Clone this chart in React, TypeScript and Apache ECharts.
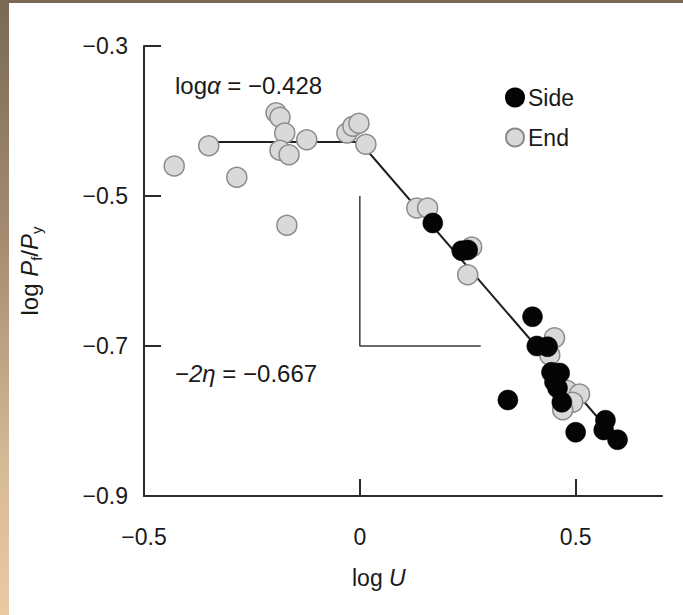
import React, { useEffect, useRef } from "react";
import * as echarts from "echarts";

const sideData: [number, number][] = [
  [0.169, -0.536],
  [0.236, -0.573],
  [0.25, -0.572],
  [0.4, -0.661],
  [0.41, -0.7],
  [0.435, -0.701],
  [0.444, -0.735],
  [0.463, -0.736],
  [0.451, -0.748],
  [0.458, -0.756],
  [0.468, -0.775],
  [0.343, -0.772],
  [0.5, -0.815],
  [0.569, -0.799],
  [0.565, -0.812],
  [0.597, -0.825],
];

const endData: [number, number][] = [
  [-0.43, -0.46],
  [-0.35, -0.433],
  [-0.285, -0.475],
  [-0.194, -0.389],
  [-0.185, -0.395],
  [-0.174, -0.416],
  [-0.185, -0.439],
  [-0.164, -0.445],
  [-0.169, -0.539],
  [-0.123, -0.425],
  [-0.03, -0.416],
  [-0.016, -0.407],
  [-0.002, -0.403],
  [0.014, -0.431],
  [0.132, -0.516],
  [0.157, -0.516],
  [0.259, -0.568],
  [0.25, -0.605],
  [0.451, -0.689],
  [0.44, -0.712],
  [0.479, -0.759],
  [0.509, -0.764],
  [0.493, -0.775],
  [0.47, -0.785],
];

const fitLine: [number, number][] = [
  [-0.35, -0.428],
  [0, -0.428],
  [0.57, -0.808],
];

const slopeGuide: [number, number][] = [
  [0, -0.5],
  [0, -0.7],
  [0.28, -0.7],
];

const xTicks = [-0.5, 0, 0.5];
const yTicks = [-0.9, -0.7, -0.5, -0.3];

const FONT = "'Liberation Sans', Arial, sans-serif";
const fmt = (v: number) => (v < 0 ? "\u2212" + String(Math.abs(v)) : String(v));

export default function App() {
  const ref = useRef<HTMLDivElement>(null);

  useEffect(() => {
    if (!ref.current) return;
    const chart = echarts.init(ref.current, null, { renderer: "svg" });
    const axisLineStyle = { color: "#2b2b2b", width: 2 };
    const TXT = "#1a1a1a";
    chart.setOption({
      animation: false,
      backgroundColor: "transparent",
      textStyle: { fontFamily: FONT },
      grid: { left: 144, top: 46, right: 21, bottom: 119, containLabel: false },
      xAxis: {
        type: "value",
        min: -0.5,
        max: 0.7,
        interval: 0.5,
        axisLine: { show: true, lineStyle: axisLineStyle, onZero: false },
        axisTick: {
          show: true,
          inside: true,
          length: 17,
          lineStyle: axisLineStyle,
          customValues: xTicks,
        },
        axisLabel: {
          customValues: xTicks,
          formatter: (v: number) => fmt(v),
          fontSize: 23,
          color: TXT,
          fontFamily: FONT,
          margin: 29,
        },
        splitLine: { show: false },
      },
      yAxis: {
        type: "value",
        min: -0.9,
        max: -0.3,
        interval: 0.2,
        axisLine: { show: true, lineStyle: axisLineStyle, onZero: false },
        axisTick: {
          show: true,
          inside: true,
          length: 17,
          lineStyle: axisLineStyle,
          customValues: yTicks,
        },
        axisLabel: {
          customValues: yTicks,
          formatter: (v: number) => fmt(Math.round(v * 10) / 10),
          fontSize: 23,
          color: TXT,
          fontFamily: FONT,
          margin: 16,
        },
        splitLine: { show: false },
        name: "{n|log }{i|P}{s|f}{n|/}{i|P}{s|y}",
        nameLocation: "middle",
        nameRotate: 90,
        nameGap: 100,
        nameTextStyle: {
          rich: {
            n: { fontSize: 24, color: TXT, fontFamily: FONT },
            i: { fontSize: 24, color: TXT, fontFamily: FONT, fontStyle: "italic" },
            s: { fontSize: 15, color: TXT, fontFamily: FONT, verticalAlign: "bottom", padding: [14, 0, 0, 0] },
          },
        },
      },
      legend: {
        data: ["Side", "End"],
        orient: "vertical",
        left: 505,
        top: 86,
        padding: 0,
        itemWidth: 18,
        itemHeight: 18,
        itemGap: 17,
        icon: "circle",
        textStyle: { fontSize: 23, color: TXT, fontFamily: FONT, padding: [0, 0, 0, -1] },
      },
      graphic: [
        {
          type: "text",
          left: 175,
          top: 73,
          style: {
            text: "{n|log}{i|\u03b1}{n| = \u22120.428}",
            rich: {
              n: { fontSize: 24, fill: TXT, fontFamily: FONT },
              i: { fontSize: 24, fill: TXT, fontFamily: FONT, fontStyle: "italic" },
            },
          },
        },
        {
          type: "text",
          left: 175,
          top: 361,
          style: {
            text: "{n|\u2212}{i|2\u03b7}{n| = \u22120.667}",
            rich: {
              n: { fontSize: 24, fill: TXT, fontFamily: FONT },
              i: { fontSize: 24, fill: TXT, fontFamily: FONT, fontStyle: "italic" },
            },
          },
        },
        {
          type: "text",
          left: 352,
          top: 566,
          style: {
            text: "{n|log }{i|U}",
            rich: {
              n: { fontSize: 23, fill: TXT, fontFamily: FONT },
              i: { fontSize: 23, fill: TXT, fontFamily: FONT, fontStyle: "italic" },
            },
          },
        },
      ],
      series: [
        {
          name: "fit",
          type: "line",
          data: fitLine,
          symbol: "none",
          lineStyle: { color: "#1f1f1f", width: 2 },
          z: 1,
          silent: true,
        },
        {
          name: "slope",
          type: "line",
          data: slopeGuide,
          symbol: "none",
          lineStyle: { color: "#3a3a3a", width: 1.5 },
          z: 1,
          silent: true,
        },
        {
          name: "End",
          type: "scatter",
          data: endData,
          symbolSize: 20,
          itemStyle: { color: "#d9d9d9", borderColor: "#8a8a8a", borderWidth: 1.5, opacity: 1 },
          z: 3,
        },
        {
          name: "Side",
          type: "scatter",
          data: sideData,
          symbolSize: 20,
          itemStyle: { color: "#050505", borderColor: "#000", borderWidth: 0.5, opacity: 1 },
          z: 4,
        },
      ],
    });
    return () => chart.dispose();
  }, []);

  return (
    <div
      style={{
        position: "fixed",
        left: 0,
        top: 0,
        width: 683,
        height: 615,
        background: "#ffffff",
        overflow: "hidden",
      }}
    >
      <div
        style={{
          position: "absolute",
          left: 0,
          top: 0,
          width: 9,
          height: 615,
          background: "linear-gradient(to bottom, #7a6955 0%, #a68d72 40%, #d6b995 75%, #e9caa5 100%)",
        }}
      />
      <div
        style={{
          position: "absolute",
          left: 0,
          top: 0,
          width: 683,
          height: 3,
          background: "#7a6955",
        }}
      />
      <div ref={ref} style={{ position: "absolute", left: 0, top: 0, width: 683, height: 615 }} />
    </div>
  );
}
